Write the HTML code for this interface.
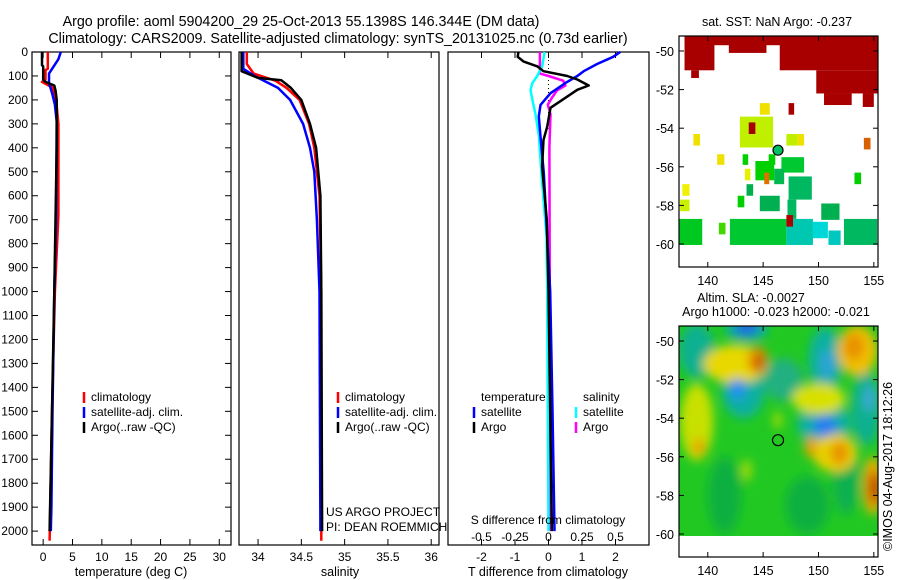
<!DOCTYPE html>
<html><head><meta charset="utf-8">
<style>
html,body{margin:0;padding:0;background:#fff;}
svg{display:block;font-family:"Liberation Sans",sans-serif;}
</style></head>
<body>
<svg id="chart" width="900" height="580" viewBox="0 0 900 580" xmlns="http://www.w3.org/2000/svg">
<defs>
<clipPath id="clipTop"><rect x="679" y="36" width="199" height="231"/></clipPath>
<clipPath id="clipBot"><rect x="679" y="326" width="199" height="231"/></clipPath>
<clipPath id="clipBotData"><rect x="679" y="326" width="199" height="210"/></clipPath>
<filter id="blur" x="-50%" y="-50%" width="200%" height="200%"><feGaussianBlur stdDeviation="5"/></filter>
</defs>
<text x="301" y="26" font-size="14.3" text-anchor="middle">Argo profile: aoml 5904200_29 25-Oct-2013 55.1398S 146.344E (DM data)</text>
<text x="338" y="43" font-size="14.3" text-anchor="middle">Climatology: CARS2009. Satellite-adjusted climatology: synTS_20131025.nc (0.73d earlier)</text>
<g id="g"></g>
</svg>
<script>
// ---------- profile data ----------
const tClimDepth=[0,70,75,115,125,150,200,300,680,1000,1500,2040];
const tClimVal=[0.8,0.8,0.4,0.4,-0.2,1.7,2.2,2.6,2.6,2.0,1.5,1.1];
const tSatDepth=[0,30,90,130,170,220,290,700,1000,1500,1900,2000];
const tSatVal=[3.0,2.6,1.0,1.0,1.5,2.0,2.3,2.2,1.9,1.6,1.4,1.3];
const tArgoDepth=[0,55,60,115,125,140,160,200,250,400,1000,1500,2000];
const tArgoVal=[-0.2,-0.2,0.0,0.0,0.4,1.9,2.1,2.3,2.3,2.3,1.9,1.5,1.1];

const sClimDepth=[0,50,90,120,150,200,300,400,600,1000,2040];
const sClimVal=[33.87,33.87,33.95,34.2,34.33,34.48,34.59,34.65,34.71,34.73,34.73];
const sSatDepth=[0,70,100,150,200,300,400,500,700,1000,2000];
const sSatVal=[33.83,33.83,33.96,34.23,34.37,34.52,34.6,34.65,34.68,34.71,34.72];
const sArgoDepth=[0,80,108,118,150,200,300,400,600,1000,2000];
const sArgoVal=[33.81,33.81,34.0,34.27,34.38,34.5,34.6,34.67,34.72,34.73,34.74];

const dtArgoDepth=[0,20,40,60,80,100,115,140,158,233,312,367,478,700,1000,1500,2000];
const dtArgoVal=[-0.9,-0.92,-0.74,-0.33,-0.15,0.56,0.86,1.2,0.86,0.06,-0.04,-0.15,-0.19,-0.05,0.0,0.05,0.1];
const dtSatDepth=[0,20,50,80,100,130,172,221,269,353,505,770,1000,1500,2000];
const dtSatVal=[2.14,1.93,1.45,1.05,0.86,0.5,0.06,-0.24,-0.29,-0.24,-0.14,-0.04,0.05,0.12,0.18];
const dsSatDepth=[0,60,100,130,160,200,260,350,500,770,1000,1500,2000];
const dsSatVal=[-0.03,-0.047,-0.084,-0.12,-0.134,-0.12,-0.097,-0.072,-0.054,-0.015,-0.01,-0.005,0];
const dsArgoDepth=[0,50,90,100,120,140,160,190,220,260,400,1000,2000];
const dsArgoVal=[-0.064,-0.064,-0.064,0,0.11,0.126,0.064,0.027,-0.005,0.015,0.007,0.01,0.015];

const depthTicks=[0,100,200,300,400,500,600,700,800,900,1000,1100,1200,1300,1400,1500,1600,1700,1800,1900,2000];
const tempTicks=[0,5,10,15,20,25,30];
const salTicks=[34,34.5,35,35.5,36];
const salTickLabels=["34","34.5","35","35.5","36"];
const tdiffTicks=[-2,-1,0,1,2];
const sdiffTicks=[-0.5,-0.25,0,0.25,0.5];
const sdiffTickLabels=["-0.5","-0.25","0","0.25","0.5"];

// ---------- map data ----------
const lonTicks=[140,145,150,155];
const latTicks=[-50,-52,-54,-56,-58,-60];
// SST patches: [lon0, lon1, lat0, lat1, color]
const sstPatches=[
[137.9,155.4,-49.2,-49.7,'#a80000'],
[137.9,140.6,-49.2,-51.0,'#a80000'],
[138.5,139.2,-51.0,-51.4,'#a80000'],
[141.9,145.3,-49.2,-50.1,'#a80000'],
[146.5,155.4,-49.2,-51.0,'#a80000'],
[149.8,155.4,-51.0,-52.2,'#a80000'],
[150.5,153.0,-52.2,-52.8,'#a80000'],
[154.0,155.0,-52.2,-52.9,'#a80000'],
[147.3,147.8,-52.7,-53.3,'#a80000'],
[138.7,139.3,-54.3,-54.9,'#f0e000'],
[140.85,141.5,-55.35,-55.9,'#f0e000'],
[137.7,138.35,-56.9,-57.5,'#f0f000'],
[137.5,138.35,-57.7,-58.3,'#c8f000'],
[143.35,143.85,-56.1,-56.7,'#e8f000'],
[144.7,145.6,-52.7,-53.3,'#f0e000'],
[142.9,145.9,-53.4,-55.0,'#c0f000'],
[143.7,144.3,-53.7,-54.3,'#a80000'],
[147.1,148.1,-54.3,-54.9,'#c0f000'],
[148.1,148.7,-54.3,-54.9,'#f0e000'],
[154.1,154.7,-54.5,-55.1,'#d86000'],
[143.15,143.65,-55.35,-55.9,'#00d000'],
[145.5,146.1,-55.35,-55.9,'#00d000'],
[146.65,148.7,-55.5,-56.3,'#00c830'],
[144.3,146.0,-55.7,-56.7,'#00d000'],
[145.1,145.55,-56.3,-56.9,'#e07000'],
[146.0,146.9,-56.1,-56.9,'#00b850'],
[147.3,149.4,-56.5,-57.7,'#00b860'],
[143.5,144.1,-56.9,-57.5,'#00b050'],
[153.25,153.85,-56.3,-56.9,'#00d000'],
[142.7,143.3,-57.5,-58.1,'#00d000'],
[144.7,146.5,-57.5,-58.3,'#00b050'],
[147.2,148.0,-57.7,-58.7,'#00b860'],
[150.25,151.9,-57.9,-58.75,'#00b050'],
[137.4,139.5,-58.7,-60.05,'#00c820'],
[141.0,141.6,-58.9,-59.5,'#40d800'],
[142.0,147.1,-58.7,-60.05,'#00c830'],
[147.1,149.5,-58.7,-60.05,'#00c8b0'],
[149.5,150.85,-58.85,-59.7,'#00d8d8'],
[150.9,152.0,-59.3,-60.05,'#00c8c0'],
[152.3,155.3,-58.7,-60.05,'#00b860'],
[147.1,147.7,-58.5,-59.1,'#b00000']
];
const argoLon=[146.344];
const argoLat=[-55.14];
// SLA blobs: [lon, lat, rlon, rlat, color]
const slaBlobs=[
[139,-50.5,1.6,1.4,'#10b090'],[141.5,-58,1.5,2,'#10b040'],[149,-58.5,2,1.5,'#10b040'],[152.5,-57,1.2,2,'#10b050'],
[143.2,-52.6,1.9,1.4,'#10b0a0'],[146.8,-52,1.8,1.1,'#20b080'],[150.6,-51,1.5,1.7,'#10b0a0'],
[150.5,-54.3,2.4,1.2,'#10b0a0'],[154.3,-53.5,1.3,1.9,'#10b090'],[143.5,-49.4,1.9,0.6,'#10a8b0'],
[142.5,-51.2,2.9,1.0,'#e8d800'],[139,-54.2,1.5,2.0,'#c8e000'],[150,-53,2.4,0.8,'#d8e000'],
[153.5,-50.5,1.8,1.3,'#f0c000'],[151.5,-55.8,2.0,1.0,'#e8d000'],[154.9,-57.5,0.9,1.5,'#f0b000'],
[146.3,-54.1,0.35,0.45,'#b8e000'],[143.5,-56.7,0.4,0.55,'#b8e000'],
[144.5,-51,0.9,0.7,'#e89000'],[144.6,-51.1,0.4,0.45,'#c05000'],[153.2,-50.3,0.9,0.7,'#e89000'],
[151.9,-55.8,0.8,0.6,'#e89000'],[149.3,-55.5,0.55,0.55,'#e8a000'],[139.2,-55.5,0.55,0.45,'#e8a000'],
[155,-57.6,0.6,1.0,'#e07000'],[155.1,-57.6,0.35,0.65,'#b02000'],
[142.7,-52.5,0.75,0.55,'#2090f0'],[150.6,-54.4,1.1,0.55,'#2080f0'],[143.5,-49.3,1.0,0.35,'#2060e0'],
[150.8,-51.2,0.55,0.75,'#30a0e0'],[154.6,-53,0.45,0.65,'#40a8e0']
];

const NS='http://www.w3.org/2000/svg';
const root=document.getElementById('g');
function mk(tag,attrs,parent){const e=document.createElementNS(NS,tag);for(const k in attrs)e.setAttribute(k,attrs[k]);(parent||root).appendChild(e);return e;}
function txt(s,x,y,anchor,size,parent){const t=mk('text',{x:x,y:y,'text-anchor':anchor||'start','font-size':size||12},parent);t.textContent=s;return t;}

const yTop=52,yBot=545,dMax=2058;
const yD=d=>yTop+d*(yBot-yTop)/dMax;
const P1={x0:32,x1:231,min:-1.9,max:32};
const P2={x0:239,x1:439,min:33.78,max:36.09};
const P3={x0:448,x1:649,min:-3,max:3};
const sx=(P,v)=>P.x0+(v-P.min)*(P.x1-P.x0)/(P.max-P.min);
const sxS=v=>sx(P3,v*4);

[[P1,'temperature-panel'],[P2,'salinity-panel'],[P3,'difference-panel']].forEach(([P,n])=>{
  const r=mk('rect',{x:P.x0,y:yTop,width:P.x1-P.x0,height:yBot-yTop,fill:'none',stroke:'#000','stroke-width':1.2});
  
  
});
depthTicks.forEach(d=>{
  const y=yD(d);
  mk('line',{x1:P1.x0,x2:P1.x0+6,y1:y,y2:y,stroke:'#000'});
  mk('line',{x1:P1.x1-6,x2:P1.x1,y1:y,y2:y,stroke:'#000'});
  const t=txt(String(d),28,y+4,'end',12);
  
  
});
function xticks(P,vals,labels,fn,ly){
  vals.forEach((v,i)=>{const x=fn(v);
    mk('line',{x1:x,x2:x,y1:yBot,y2:yBot-6,stroke:'#000'});
    mk('line',{x1:x,x2:x,y1:yTop,y2:yTop+6,stroke:'#000'});
    if(labels){const t=txt(labels[i],x,ly,'middle',12);
      
      }
  });
}
xticks(P1,tempTicks,tempTicks.map(String),v=>sx(P1,v),561);
xticks(P2,salTicks,salTickLabels,v=>sx(P2,v),561);
xticks(P3,tdiffTicks,tdiffTicks.map(String),v=>sx(P3,v),561);
sdiffTicks.forEach((v,i)=>{const t=txt(sdiffTickLabels[i],sxS(v),541,'middle',12);
  
  });

function line(dep,val,fn,color,w,name){
  const pts=dep.map((d,i)=>fn(val[i]).toFixed(1)+','+yD(d).toFixed(1)).join(' ');
  const p=mk('polyline',{points:pts,fill:'none',stroke:color,'stroke-width':w,'stroke-linejoin':'round'});
  
  
}
mk('line',{x1:sx(P3,0),x2:sx(P3,0),y1:yTop,y2:yD(320),stroke:'#000','stroke-dasharray':'1,3'});
const f1=v=>sx(P1,v),f2=v=>sx(P2,v),f3=v=>sx(P3,v);
line(tClimDepth,tClimVal,f1,'#f00',2.5,'temp-climatology-line');
line(tSatDepth,tSatVal,f1,'#00f',2.5,'temp-satellite-line');
line(tArgoDepth,tArgoVal,f1,'#000',2.5,'temp-argo-line');
line(sClimDepth,sClimVal,f2,'#f00',2.5,'sal-climatology-line');
line(sSatDepth,sSatVal,f2,'#00f',2.5,'sal-satellite-line');
line(sArgoDepth,sArgoVal,f2,'#000',2.5,'sal-argo-line');
line(dsArgoDepth,dsArgoVal,sxS,'#f0f',2.5,'sdiff-argo-line');
line(dsSatDepth,dsSatVal,sxS,'#0ff',2.5,'sdiff-satellite-line');
line(dtSatDepth,dtSatVal,f3,'#00f',2.5,'tdiff-satellite-line');
line(dtArgoDepth,dtArgoVal,f3,'#000',2.5,'tdiff-argo-line');

function legend(x,y,color,label,name){
  const m=mk('line',{x1:x,x2:x,y1:y-9,y2:y+2,stroke:color,'stroke-width':2.5});
  
  
  const t=txt(label,x+7,y,'start',12);
  
  
}
legend(84,401,'#f00','climatology','legend-climatology');
legend(84,416,'#00f','satellite-adj. clim.','legend-satellite');
legend(84,431,'#000','Argo(..raw -QC)','legend-argo');
legend(338,401,'#f00','climatology','legend-climatology-2');
legend(338,416,'#00f','satellite-adj. clim.','legend-satellite-2');
legend(338,431,'#000','Argo(..raw -QC)','legend-argo-2');
txt('temperature',481,401,'start',12);
txt('salinity',583,401,'start',12);
legend(474,416,'#00f','satellite','legend-t-satellite');
legend(474,431,'#000','Argo','legend-t-argo');
legend(576,416,'#0ff','satellite','legend-s-satellite');
legend(576,431,'#f0f','Argo','legend-s-argo');
txt('US ARGO PROJECT',326,516,'start',12);
txt('PI: DEAN ROEMMICH',326,531,'start',12);
txt('S difference from climatology',548,524,'middle',12);
txt('temperature (deg C)',131,576,'middle',12.5);
txt('salinity',340,576,'middle',12.5);
txt('T difference from climatology',548,576,'middle',12.5);

const lonX=lon=>679+(lon-137.4)*11.07;
function drawMap(yOff,clipId,isTop){
  const latY=lat=>yOff+(-50-lat)*19.3;
  const g=mk('g',{'clip-path':'url(#'+clipId+')'});
  if(isTop){
    sstPatches.forEach(p=>{
      const r=mk('rect',{x:lonX(p[0]),y:latY(p[2]),width:lonX(p[1])-lonX(p[0]),height:latY(p[3])-latY(p[2]),fill:p[4]},g);
      
      
    });
    const c=mk('circle',{cx:lonX(argoLon[0]),cy:latY(argoLat[0]),r:5,fill:'#00c060',stroke:'#000','stroke-width':1.2},g);
    
    
  } else {
    const gd=mk('g',{'clip-path':'url(#clipBotData)'},g);
    mk('rect',{x:679,y:326,width:199,height:210,fill:'#22c822'},gd);
    const gb=mk('g',{filter:'url(#blur)'},gd);
    slaBlobs.forEach(b=>{
      const e=mk('ellipse',{cx:lonX(b[0]),cy:latY(b[1]),rx:b[2]*11.07,ry:b[3]*19.3,fill:b[4]},gb);
      
      
    });
    const c=mk('circle',{cx:lonX(argoLon[0]),cy:latY(argoLat[0]),r:5.5,fill:'none',stroke:'#000','stroke-width':1.2},g);
    
    
  }
  const fy=yOff-15;
  const fr=mk('rect',{x:679,y:fy,width:199,height:231,fill:'none',stroke:'#000','stroke-width':1.2});
  
  
  lonTicks.forEach(l=>{const x=lonX(l);
    mk('line',{x1:x,x2:x,y1:fy,y2:fy+5,stroke:'#000'});
    mk('line',{x1:x,x2:x,y1:fy+231,y2:fy+226,stroke:'#000'});
    const t=txt(String(l),x,fy+249,'middle',12.5);
    
    
  });
  latTicks.forEach(l=>{const y=latY(l);
    mk('line',{x1:679,x2:684,y1:y,y2:y,stroke:'#000'});
    mk('line',{x1:873,x2:878,y1:y,y2:y,stroke:'#000'});
    const t=txt(String(l),674,y+5,'end',12.5);
    
    
  });
}
drawMap(51,'clipTop',true);
drawMap(341,'clipBot',false);
txt('sat. SST: NaN Argo: -0.237',777,26,'middle',12.5);
txt('Altim. SLA: -0.0027',751,302,'middle',12.5);
txt('Argo h1000: -0.023 h2000: -0.021',776,316,'middle',12.5);
const im=txt('©IMOS 04-Aug-2017 18:12:26',0,0,'start',12.5);
im.setAttribute('transform','translate(892,551) rotate(-90)');


</script>
</body></html>
